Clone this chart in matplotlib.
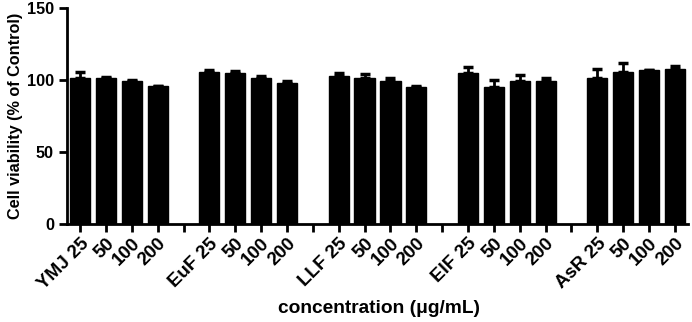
import numpy as np
import matplotlib.pyplot as plt

plt.rcParams["font.family"] = ["Liberation Sans", "DejaVu Sans"]
plt.rcParams["font.weight"] = "bold"

groups = ["YMJ", "EuF", "LLF", "EIF", "AsR"]
doses = ["25", "50", "100", "200"]
viability = [
    [101.5, 101.6, 99.5, 96.0],
    [105.8, 104.6, 101.6, 97.7],
    [102.8, 101.2, 99.5, 95.3],
    [105.0, 95.3, 99.1, 99.3],
    [101.6, 105.3, 107.2, 107.6],
]
sem = [
    [4.0, 0.5, 0.3, 0.2],
    [1.4, 1.4, 1.2, 1.6],
    [2.0, 3.0, 2.0, 0.5],
    [3.8, 4.7, 4.6, 1.9],
    [6.0, 6.7, 0.0, 2.5],
]

fig = plt.figure(figsize=(6.92, 3.22), dpi=100)
ax = fig.add_axes([0.097, 0.304, 0.897, 0.671])

positions = []
tick_pos = []
tick_lab = []
slot = 0
for g, name in enumerate(groups):
    for d, dose in enumerate(doses):
        positions.append(slot)
        tick_pos.append(slot)
        tick_lab.append(f"{name} {dose}" if d == 0 else dose)
        slot += 1
    # empty slot between groups
    if g < len(groups) - 1:
        tick_pos.append(slot)
        tick_lab.append("")
        slot += 1

vals = np.array(viability).ravel()
errs = np.array(sem).ravel()
ax.bar(positions, vals, width=0.78, color="black", edgecolor="black")
ax.errorbar(positions, vals, yerr=[np.zeros_like(errs), errs], fmt="none",
            ecolor="black", elinewidth=2, capsize=3.5, capthick=2.5)

ax.set_xlim(-0.5, 23.5)
ax.set_ylim(0, 150)
ax.set_yticks([0, 50, 100, 150])
ax.set_xticks(tick_pos)
ax.set_xticklabels(tick_lab, rotation=45, ha="right", rotation_mode="anchor")
ax.tick_params(axis="both", width=2, length=6)
ax.tick_params(axis="y", labelsize=11.7)
ax.tick_params(axis="x", labelsize=13.5, pad=2)

for side in ["top", "right"]:
    ax.spines[side].set_visible(False)
for side in ["left", "bottom"]:
    ax.spines[side].set_linewidth(2)

ax.set_ylabel("Cell viability (% of Control)", fontsize=11.7, fontweight="bold", labelpad=3)
fig.text(0.548, 0.043, "concentration (\u03bcg/mL)", ha="center", va="center",
         fontsize=13.8, fontweight="bold")

plt.savefig("out.png", dpi=100)
